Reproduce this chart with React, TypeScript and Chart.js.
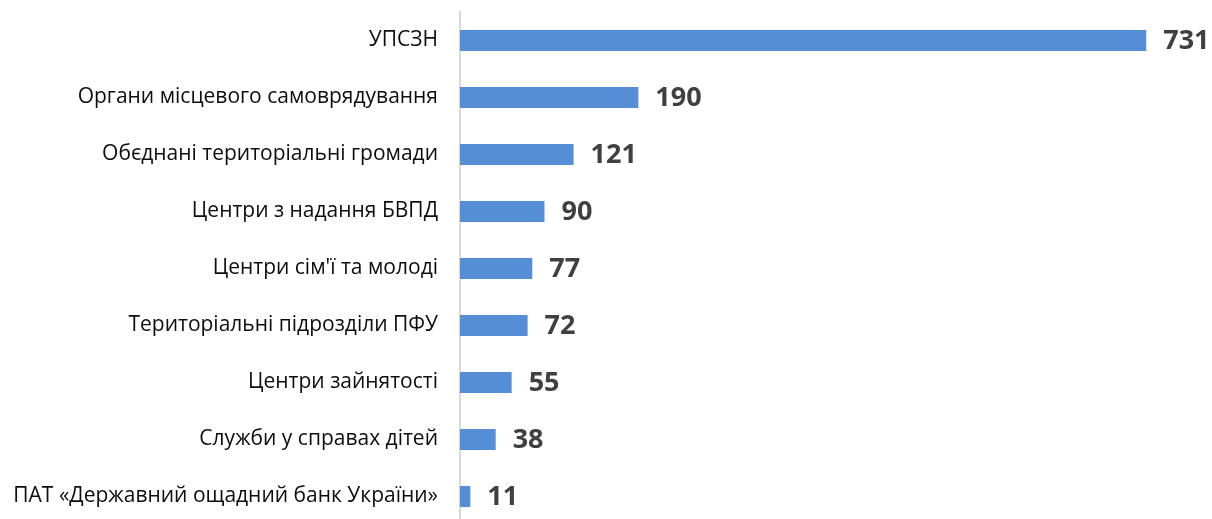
import React, { useEffect, useRef } from "react";
import { Chart, registerables } from "chart.js";

Chart.register(...registerables);

const categories = [
  "УПСЗН",
  "Органи місцевого самоврядування",
  "Обєднані територіальні громади",
  "Центри з надання БВПД",
  "Центри сім'ї та молоді",
  "Територіальні підрозділи ПФУ",
  "Центри зайнятості",
  "Служби у справах дітей",
  "ПАТ «Державний ощадний банк України»",
];
const values = [731, 190, 121, 90, 77, 72, 55, 38, 11];

const AXIS_LEFT = 460;

const valueLabels = {
  id: "valueLabels",
  afterDatasetsDraw(chart: any) {
    const ctx = chart.ctx;
    const meta = chart.getDatasetMeta(0);
    ctx.save();
    ctx.font = "bold 27px 'Open Sans', sans-serif";
    ctx.fillStyle = "#404040";
    ctx.textAlign = "left";
    ctx.textBaseline = "middle";
    meta.data.forEach((bar: any, i: number) => {
      ctx.fillText(String(values[i]), bar.x + 17, bar.y + 1);
    });
    ctx.restore();
  },
};

export default function App() {
  const ref = useRef<HTMLCanvasElement | null>(null);
  useEffect(() => {
    document.body.style.overflow = "hidden";
    const chart = new Chart(ref.current as HTMLCanvasElement, {
      type: "bar",
      data: {
        labels: categories,
        datasets: [
          {
            data: values,
            backgroundColor: "#558ed5",
            categoryPercentage: 1,
            barPercentage: 0.37,
          },
        ],
      },
      options: {
        indexAxis: "y",
        animation: false,
        responsive: false,
        maintainAspectRatio: false,
        layout: { padding: { top: 12, right: 1, left: 0, bottom: 0 } },
        plugins: { legend: { display: false }, tooltip: { enabled: false } },
        scales: {
          x: { display: false, min: 0, max: 800 },
          y: {
            grid: { display: false, drawTicks: false },
            border: { display: true, color: "#d9d9d9", width: 2 },
            ticks: {
              color: "#0d0d0d",
              padding: 22,
              font: { family: "'Open Sans', sans-serif", size: 21 },
            },
            afterFit(scale: any) {
              scale.width = AXIS_LEFT;
              scale.paddingTop = 0;
              scale.paddingBottom = 0;
            },
          },
        },
      },
      plugins: [valueLabels],
    });
    return () => chart.destroy();
  }, []);
  return (
    <div style={{ position: "fixed", left: 0, top: 0, width: 1212, height: 525 }}>
      <canvas ref={ref} width={1212} height={525} style={{ display: "block" }} />
    </div>
  );
}
